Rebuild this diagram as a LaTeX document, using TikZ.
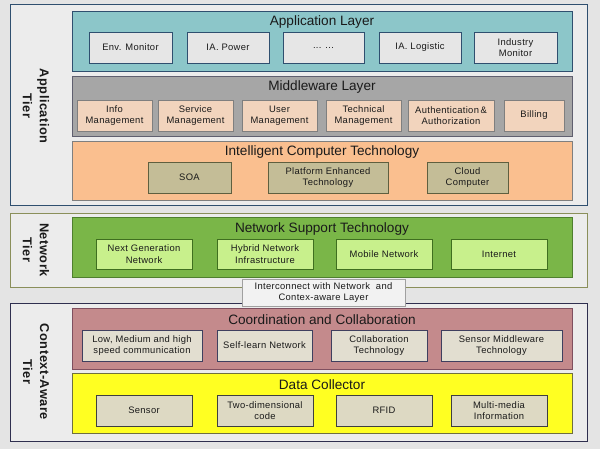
\documentclass[tikz,border=0pt]{standalone}
\usepackage{fontspec}
\setmainfont{Liberation Sans}
\newfontfamily\boxfont[LetterSpace=3.5]{Liberation Sans}
\newfontfamily\tierfont[LetterSpace=4]{Liberation Sans}
\definecolor{bgc}{HTML}{E4E4E4}
\definecolor{tierfill}{HTML}{ECECEC}
\definecolor{appdraw}{HTML}{2F4F6F}
\definecolor{netterdraw}{HTML}{8A8F5A}
\definecolor{ctxdraw}{HTML}{2F2F4F}
\definecolor{appfill}{HTML}{8CC6C9}
\definecolor{midfill}{HTML}{A6A6A6}
\definecolor{middraw}{HTML}{5F5F6F}
\definecolor{intfill}{HTML}{FABF8F}
\definecolor{intdraw}{HTML}{7F7F7F}
\definecolor{netfill}{HTML}{7AB648}
\definecolor{netdraw}{HTML}{4F7F2F}
\definecolor{coofill}{HTML}{C48A8C}
\definecolor{coodraw}{HTML}{7F4F5F}
\definecolor{datfill}{HTML}{FFFF22}
\definecolor{datdraw}{HTML}{6F6F3F}
\definecolor{aboxfill}{HTML}{E6E6E6}
\definecolor{mboxfill}{HTML}{F2D4BD}
\definecolor{iboxfill}{HTML}{C4BD97}
\definecolor{iboxdraw}{HTML}{5F5F3F}
\definecolor{nboxfill}{HTML}{C8F08C}
\definecolor{nboxdraw}{HTML}{3F6F1F}
\definecolor{cboxfill}{HTML}{E2DED0}
\definecolor{cboxdraw}{HTML}{3F3F5F}
\definecolor{dboxfill}{HTML}{DDD9C3}
\definecolor{dboxdraw}{HTML}{3F3F3F}
\definecolor{interfill}{HTML}{F2F2F2}
\definecolor{interdraw}{HTML}{A0A0A0}
\definecolor{txt}{HTML}{1A1A1A}
\tikzset{
  tier/.style={draw=#1, fill=tierfill, line width=0.9pt, minimum width=577pt, inner sep=0pt},
  layer/.style={line width=0.9pt, minimum width=500pt, minimum height=60pt, inner sep=0pt},
  ltitle/.style={font=\fontsize{13.6}{15}\selectfont, text=txt, inner sep=0pt, anchor=center},
  cbox/.style={line width=0.9pt, inner sep=1pt, minimum height=31pt, align=center, text=txt, font=\boxfont\fontsize{9.4}{11.5}\selectfont},
  tlabel/.style={rotate=-90, align=center, text=txt, font=\tierfont\fontsize{12.8}{17}\selectfont\bfseries, inner sep=0pt}
}
\begin{document}
\begin{tikzpicture}[x=1pt,y=-1pt]
\fill[bgc] (0,0) rectangle (600,449);
\useasboundingbox (0,0) rectangle (600,449);
% tiers
\node[tier=appdraw, minimum height=201pt] (apptier) at (298.5,104.5) {};
\node[tier=netterdraw, minimum height=74pt] (nettier) at (298.5,250) {};
\node[tier=ctxdraw, minimum height=138pt] (ctxtier) at (298.5,372) {};
\node[tlabel] (applbl) at (36,106) {Application\\Tier};
\node[tlabel] (netlbl) at (36,250) {Network\\Tier};
\node[tlabel] (ctxlbl) at (36,372) {Context-Aware\\Tier};
% layers
\node[layer, fill=appfill, draw=appdraw] (applayer) at (322,41) {};
\node[layer, fill=midfill, draw=middraw] (midlayer) at (322,106) {};
\node[layer, fill=intfill, draw=intdraw, minimum height=59pt] (intlayer) at (322,170.5) {};
\node[layer, fill=netfill, draw=netdraw] (netlayer) at (322,247) {};
\node[layer, fill=coofill, draw=coodraw, minimum height=61pt] (coolayer) at (322,338.5) {};
\node[layer, fill=datfill, draw=datdraw] (datlayer) at (322,403) {};
\node[ltitle] (apptitle) at (322,21.5) {Application Layer};
\node[ltitle] (midtitle) at (322,86.5) {Middleware Layer};
\node[ltitle] (inttitle) at (322,151.5) {Intelligent Computer Technology};
\node[ltitle] (nettitle) at (322,228.5) {Network Support Technology};
\node[ltitle] (cootitle) at (322,320) {Coordination and Collaboration};
\node[ltitle] (dattitle) at (322,384.5) {Data Collector};
% application boxes
\tikzset{abox/.style={cbox, fill=aboxfill, draw=appdraw}}
\node[abox, minimum width=83pt] (env) at (130.5,47.5) {Env. Monitor};
\node[abox, minimum width=82pt] (power) at (228,47.5) {IA. Power};
\node[abox, minimum width=81pt] (dots) at (323.5,47.5) {... ...};
\node[abox, minimum width=82pt] (logi) at (420,47.5) {IA. Logistic};
\node[abox, minimum width=83pt] (indm) at (515.5,47.5) {Industry\\Monitor};
% middleware boxes
\tikzset{mbox/.style={cbox, fill=mboxfill, draw=intdraw}}
\node[mbox, minimum width=75pt] (info) at (114.5,115.5) {Info\\Management};
\node[mbox, minimum width=75pt] (serv) at (195.5,115.5) {Service\\Management};
\node[mbox, minimum width=75pt] (user) at (279.5,115.5) {User\\Management};
\node[mbox, minimum width=75pt] (tech) at (363.5,115.5) {Technical\\Management};
\node[mbox, minimum width=86pt] (auth) at (451,115.5) {Authentication\,\&\\Authorization};
\node[mbox, minimum width=60pt] (bill) at (534,115.5) {Billing};
% intelligent boxes
\tikzset{ibox/.style={cbox, fill=iboxfill, draw=iboxdraw}}
\node[ibox, minimum width=83pt] (soa) at (189.5,177.5) {SOA};
\node[ibox, minimum width=120pt] (plat) at (328,177.5) {Platform Enhanced\\Technology};
\node[ibox, minimum width=81pt] (cloud) at (467.5,177.5) {Cloud\\Computer};
% network boxes
\tikzset{nbox/.style={cbox, fill=nboxfill, draw=nboxdraw, minimum width=96pt, minimum height=30pt}}
\node[nbox] (ngn) at (144,254) {Next Generation\\Network};
\node[nbox] (hyb) at (265,254) {Hybrid Network\\Infrastructure};
\node[nbox] (mob) at (384,254) {Mobile Network};
\node[nbox] (inet) at (499,254) {Internet};
% interconnect
\node[cbox, fill=interfill, draw=interdraw, line width=0.6pt, minimum width=163pt, minimum height=27pt] (inter) at (323.5,292.5) {Interconnect with Network\ \ and\\Contex-aware Layer};
% coordination boxes
\tikzset{obox/.style={cbox, fill=cboxfill, draw=cboxdraw}}
\node[obox, minimum width=120pt] (low) at (142,345.5) {Low, Medium and high\\speed communication};
\node[obox, minimum width=95pt] (self) at (264.5,345.5) {Self-learn Network};
\node[obox, minimum width=96pt] (colt) at (379,345.5) {Collaboration\\Technology};
\node[obox, minimum width=121pt] (smw) at (501.5,345.5) {Sensor Middleware\\Technology};
% data boxes
\tikzset{dbox/.style={cbox, fill=dboxfill, draw=dboxdraw, minimum width=96pt}}
\node[dbox] (sens) at (144,410.5) {Sensor};
\node[dbox] (twod) at (265,410.5) {Two-dimensional\\code};
\node[dbox] (rfid) at (384,410.5) {RFID};
\node[dbox] (mmi) at (499,410.5) {Multi-media\\Information};
\end{tikzpicture}
\end{document}
